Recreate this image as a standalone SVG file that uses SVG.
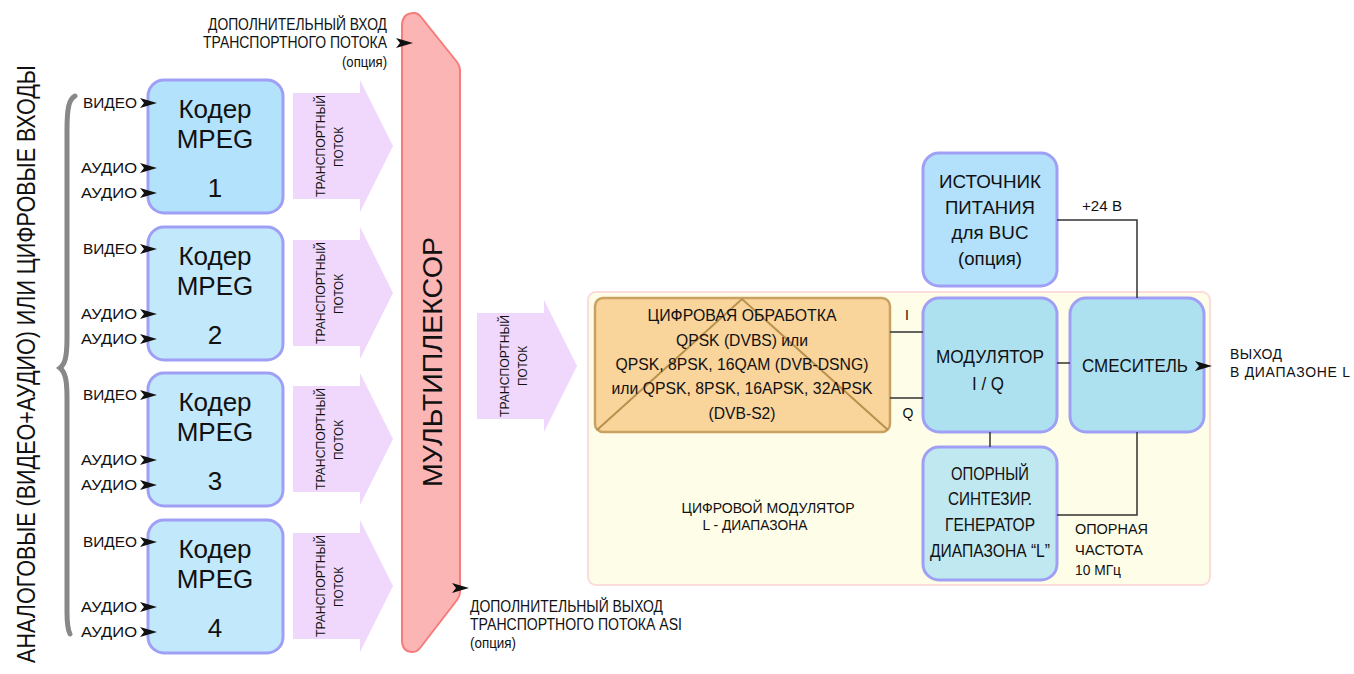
<svg xmlns="http://www.w3.org/2000/svg" xmlns:xlink="http://www.w3.org/1999/xlink" width="1354" height="674" viewBox="0 0 1354 674">
<style>
text{font-family:"Liberation Sans",Arial,sans-serif;fill:#111}
.enc{stroke:#9f9ff5;stroke-width:3}
.lbl{font-size:15px;text-anchor:end}
.big{font-size:26px;text-anchor:middle}
.ts{fill:#efd8fb}
.tst{font-size:13px;text-anchor:middle}
.ln{stroke:#333;stroke-width:1.5;fill:none}
.blk{font-size:19px;text-anchor:middle}
</style>
<defs>
<path id="ah" d="M-17,-5 L0,0 L-17,5 L-13,0 Z" fill="#111"/>
<path id="tarrow" d="M0,13 H67 V0 L100,66 L67,132 V119 H0 Z"/>
</defs>
<rect width="1354" height="674" fill="#fff"/>

<g id="inputs-title">
<text transform="translate(35,364) rotate(-90) scale(0.81,1)" font-size="26" text-anchor="middle" textLength="738" lengthAdjust="spacingAndGlyphs">АНАЛОГОВЫЕ (ВИДЕО+АУДИО) ИЛИ ЦИФРОВЫЕ ВХОДЫ</text>
<path d="M75,96 C69,99 67,108 67,130 L67,338 C67,357 65,364 60,368 C65,372 67,379 67,398 L67,612 C67,626 68,630 70,634" fill="none" stroke="#888" stroke-width="5" stroke-linecap="round"/>
</g>

<g id="encoder1">
<rect class="enc" x="148" y="80" width="135" height="133" rx="16" fill="#b3e2fc"/>
<text class="big" x="215" y="118">Кодер</text><text class="big" x="215" y="148">MPEG</text><text class="big" x="215" y="197">1</text>
<text class="lbl" x="137" y="108" textLength="54" lengthAdjust="spacingAndGlyphs">ВИДЕО</text>
<text class="lbl" x="137" y="173" textLength="56" lengthAdjust="spacingAndGlyphs">АУДИО</text>
<text class="lbl" x="137" y="198" textLength="56" lengthAdjust="spacingAndGlyphs">АУДИО</text>
</g>
<g id="encoder2">
<rect class="enc" x="148" y="227" width="135" height="133" rx="16" fill="#c2e8fb"/>
<text class="big" x="215" y="265">Кодер</text><text class="big" x="215" y="295">MPEG</text><text class="big" x="215" y="344">2</text>
<text class="lbl" x="137" y="254" textLength="54" lengthAdjust="spacingAndGlyphs">ВИДЕО</text>
<text class="lbl" x="137" y="319" textLength="56" lengthAdjust="spacingAndGlyphs">АУДИО</text>
<text class="lbl" x="137" y="344" textLength="56" lengthAdjust="spacingAndGlyphs">АУДИО</text>
</g>
<g id="encoder3">
<rect class="enc" x="148" y="373" width="135" height="133" rx="16" fill="#c2e8fb"/>
<text class="big" x="215" y="411">Кодер</text><text class="big" x="215" y="441">MPEG</text><text class="big" x="215" y="490">3</text>
<text class="lbl" x="137" y="400" textLength="54" lengthAdjust="spacingAndGlyphs">ВИДЕО</text>
<text class="lbl" x="137" y="465" textLength="56" lengthAdjust="spacingAndGlyphs">АУДИО</text>
<text class="lbl" x="137" y="490" textLength="56" lengthAdjust="spacingAndGlyphs">АУДИО</text>
</g>
<g id="encoder4">
<rect class="enc" x="148" y="520" width="135" height="133" rx="16" fill="#c2e8fb"/>
<text class="big" x="215" y="558">Кодер</text><text class="big" x="215" y="588">MPEG</text><text class="big" x="215" y="637">4</text>
<text class="lbl" x="137" y="547" textLength="54" lengthAdjust="spacingAndGlyphs">ВИДЕО</text>
<text class="lbl" x="137" y="612" textLength="56" lengthAdjust="spacingAndGlyphs">АУДИО</text>
<text class="lbl" x="137" y="637" textLength="56" lengthAdjust="spacingAndGlyphs">АУДИО</text>
</g>

<g id="ts1"><use xlink:href="#tarrow" href="#tarrow" x="293" y="80" class="ts"/>
<text class="tst" transform="translate(325,146) rotate(-90)" textLength="102" lengthAdjust="spacingAndGlyphs">ТРАНСПОРТНЫЙ</text>
<text class="tst" transform="translate(343,147) rotate(-90)" textLength="40" lengthAdjust="spacingAndGlyphs">ПОТОК</text></g>
<g id="ts2"><use xlink:href="#tarrow" href="#tarrow" x="293" y="227" class="ts"/>
<text class="tst" transform="translate(325,293) rotate(-90)" textLength="102" lengthAdjust="spacingAndGlyphs">ТРАНСПОРТНЫЙ</text>
<text class="tst" transform="translate(343,294) rotate(-90)" textLength="40" lengthAdjust="spacingAndGlyphs">ПОТОК</text></g>
<g id="ts3"><use xlink:href="#tarrow" href="#tarrow" x="293" y="373" class="ts"/>
<text class="tst" transform="translate(325,439) rotate(-90)" textLength="102" lengthAdjust="spacingAndGlyphs">ТРАНСПОРТНЫЙ</text>
<text class="tst" transform="translate(343,440) rotate(-90)" textLength="40" lengthAdjust="spacingAndGlyphs">ПОТОК</text></g>
<g id="ts4"><use xlink:href="#tarrow" href="#tarrow" x="293" y="520" class="ts"/>
<text class="tst" transform="translate(325,586) rotate(-90)" textLength="102" lengthAdjust="spacingAndGlyphs">ТРАНСПОРТНЫЙ</text>
<text class="tst" transform="translate(343,587) rotate(-90)" textLength="40" lengthAdjust="spacingAndGlyphs">ПОТОК</text></g>

<g id="multiplexer">
<path d="M402,26 Q402,13 414,13 Q418,13 421,17 L457,62 Q460,66 460,70 L460,592 Q460,596 457,600 L420,648 Q417,652 413,652 Q402,652 402,640 Z" fill="#fbb5b5" stroke="#f77b7b" stroke-width="2"/>
<text transform="translate(442,362) rotate(-90)" font-size="27" text-anchor="middle" textLength="250" lengthAdjust="spacingAndGlyphs">МУЛЬТИПЛЕКСОР</text>
</g>

<g id="extra-input">
<text x="387" y="30" font-size="16" text-anchor="end" textLength="179" lengthAdjust="spacingAndGlyphs">ДОПОЛНИТЕЛЬНЫЙ ВХОД</text>
<text x="387" y="48" font-size="16" text-anchor="end" textLength="184" lengthAdjust="spacingAndGlyphs">ТРАНСПОРТНОГО ПОТОКА</text>
<text x="387" y="67" font-size="14" text-anchor="end" textLength="45" lengthAdjust="spacingAndGlyphs">(опция)</text>
</g>
<g id="extra-output">
<text x="470" y="612" font-size="16" textLength="193" lengthAdjust="spacingAndGlyphs">ДОПОЛНИТЕЛЬНЫЙ ВЫХОД</text>
<text x="470" y="630" font-size="16" textLength="212" lengthAdjust="spacingAndGlyphs">ТРАНСПОРТНОГО ПОТОКА ASI</text>
<text x="470" y="648" font-size="14" textLength="46" lengthAdjust="spacingAndGlyphs">(опция)</text>
</g>

<g id="ts5"><use xlink:href="#tarrow" href="#tarrow" x="477" y="300" class="ts"/>
<text class="tst" transform="translate(509,366) rotate(-90)" textLength="102" lengthAdjust="spacingAndGlyphs">ТРАНСПОРТНЫЙ</text>
<text class="tst" transform="translate(527,366) rotate(-90)" textLength="40" lengthAdjust="spacingAndGlyphs">ПОТОК</text></g>

<g id="modulator-panel">
<rect x="588" y="292" width="622" height="293" rx="8" fill="#fefde8" stroke="#fbdcdc" stroke-width="2"/>
<text x="768" y="513" font-size="15" text-anchor="middle" textLength="173" lengthAdjust="spacingAndGlyphs">ЦИФРОВОЙ МОДУЛЯТОР</text>
<text x="755" y="530" font-size="15" text-anchor="middle" textLength="105" lengthAdjust="spacingAndGlyphs">L - ДИАПАЗОНА</text>
</g>

<g id="digital-processing">
<rect x="595" y="298" width="295" height="134" rx="8" fill="#f9d49b" stroke="#c9a263" stroke-width="2.5"/>
<path d="M597,430 L742,299 L888,430" fill="none" stroke="#b8914c" stroke-width="2"/>
<text x="742" y="321" font-size="17" text-anchor="middle" textLength="189" lengthAdjust="spacingAndGlyphs">ЦИФРОВАЯ ОБРАБОТКА</text>
<text x="742" y="346" font-size="17" text-anchor="middle" textLength="132" lengthAdjust="spacingAndGlyphs">QPSK (DVBS) или</text>
<text x="742" y="370" font-size="17" text-anchor="middle" textLength="253" lengthAdjust="spacingAndGlyphs">QPSK, 8PSK, 16QAM (DVB-DSNG)</text>
<text x="742" y="394" font-size="17" text-anchor="middle" textLength="261" lengthAdjust="spacingAndGlyphs">или QPSK, 8PSK, 16APSK, 32APSK</text>
<text x="742" y="419" font-size="17" text-anchor="middle" textLength="67" lengthAdjust="spacingAndGlyphs">(DVB-S2)</text>
</g>

<g id="power-supply">
<rect class="enc" x="923" y="153" width="134" height="133" rx="16" fill="#b3e0fb"/>
<text class="blk" x="990" y="188" textLength="102" lengthAdjust="spacingAndGlyphs">ИСТОЧНИК</text>
<text class="blk" x="990" y="214" textLength="90" lengthAdjust="spacingAndGlyphs">ПИТАНИЯ</text>
<text class="blk" x="990" y="239" textLength="77" lengthAdjust="spacingAndGlyphs">для BUC</text>
<text class="blk" x="990" y="265" textLength="64" lengthAdjust="spacingAndGlyphs">(опция)</text>
</g>

<g id="iq-modulator">
<rect class="enc" x="923" y="298" width="134" height="134" rx="16" fill="#aee1f0"/>
<text class="blk" x="990" y="363" textLength="108" lengthAdjust="spacingAndGlyphs">МОДУЛЯТОР</text>
<text class="blk" x="988" y="390" textLength="32" lengthAdjust="spacingAndGlyphs">I / Q</text>
</g>

<g id="mixer">
<rect class="enc" x="1070" y="298" width="134" height="134" rx="16" fill="#aee1f0"/>
<text class="blk" x="1135" y="372" textLength="106" lengthAdjust="spacingAndGlyphs">СМЕСИТЕЛЬ</text>
</g>

<g id="generator">
<rect class="enc" x="923" y="447" width="134" height="133" rx="16" fill="#c0e8f0"/>
<text class="blk" x="990" y="480" font-size="18" textLength="78" lengthAdjust="spacingAndGlyphs">ОПОРНЫЙ</text>
<text class="blk" x="990" y="505" font-size="18" textLength="84" lengthAdjust="spacingAndGlyphs">СИНТЕЗИР.</text>
<text class="blk" x="990" y="531" font-size="18" textLength="90" lengthAdjust="spacingAndGlyphs">ГЕНЕРАТОР</text>
<text class="blk" x="990" y="557" font-size="18" textLength="120" lengthAdjust="spacingAndGlyphs">ДИАПАЗОНА “L”</text>
</g>

<g id="output-label">
<text x="1230" y="359" font-size="14" textLength="52" lengthAdjust="spacing">ВЫХОД</text>
<text x="1230" y="377" font-size="14" textLength="120" lengthAdjust="spacing">В ДИАПАЗОНЕ L</text>
</g>

<g id="connectors">
<use xlink:href="#ah" href="#ah" x="157" y="103"/><use xlink:href="#ah" href="#ah" x="157" y="168"/><use xlink:href="#ah" href="#ah" x="157" y="193"/>
<use xlink:href="#ah" href="#ah" x="157" y="249"/><use xlink:href="#ah" href="#ah" x="157" y="314"/><use xlink:href="#ah" href="#ah" x="157" y="339"/>
<use xlink:href="#ah" href="#ah" x="157" y="395"/><use xlink:href="#ah" href="#ah" x="157" y="460"/><use xlink:href="#ah" href="#ah" x="157" y="485"/>
<use xlink:href="#ah" href="#ah" x="157" y="542"/><use xlink:href="#ah" href="#ah" x="157" y="607"/><use xlink:href="#ah" href="#ah" x="157" y="632"/>
<use xlink:href="#ah" href="#ah" x="413" y="43"/>
<use xlink:href="#ah" href="#ah" x="469" y="588"/>
<use xlink:href="#ah" href="#ah" x="1212" y="366"/>
<path class="ln" d="M890,332 H923 M890,398 H923 M1057,363 H1070 M990,432 V447 M1057,220 H1137 V298 M1057,515 H1137 V432"/>
<text x="907" y="320" font-size="14" text-anchor="middle">I</text>
<text x="908" y="418" font-size="14" text-anchor="middle">Q</text>
<text x="1082" y="211" font-size="14" textLength="40" lengthAdjust="spacingAndGlyphs">+24 В</text>
<text x="1075" y="534" font-size="15" textLength="73" lengthAdjust="spacingAndGlyphs">ОПОРНАЯ</text>
<text x="1075" y="555" font-size="15" textLength="68" lengthAdjust="spacingAndGlyphs">ЧАСТОТА</text>
<text x="1075" y="575" font-size="15" textLength="46" lengthAdjust="spacingAndGlyphs">10 МГц</text>
</g>
</svg>
